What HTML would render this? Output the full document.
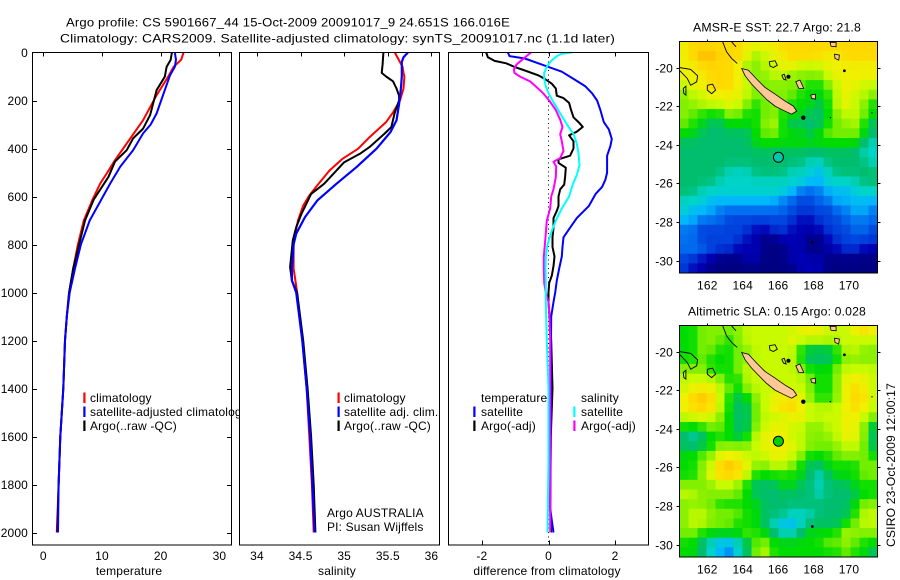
<!DOCTYPE html>
<html lang="en">
<head>
<meta charset="utf-8">
<title>Argo profile</title>
<style>
html,body{margin:0;padding:0;background:#fff;width:900px;height:580px;overflow:hidden}
svg{display:block}
text{font-family:"Liberation Sans",sans-serif;font-size:12px;fill:#000;letter-spacing:0.15px}
</style>
</head>
<body>
<svg id="chart" xmlns="http://www.w3.org/2000/svg" width="900" height="580" viewBox="0 0 900 580"></svg>
<script>
/* ---------- profile data ---------- */
const tempTicks = [0, 10, 20, 30];
const salTicks = [34, 34.5, 35, 35.5, 36];
const salTickLabels = ['34', '34.5', '35', '35.5', '36'];
const diffTicks = [-2, 0, 2];
const depthTicks = [0, 200, 400, 600, 800, 1000, 1200, 1400, 1600, 1800, 2000];

const tempClimDepths = [0,30,60,100,178,282,379,449,504,546,612,700,800,900,1000,1100,1200,1400,1600,1800,2000];
const tempClim = [23.9,23.5,22.2,21.3,19.3,17.0,14.2,12.2,10.8,9.7,8.4,6.9,5.9,5.1,4.4,4.0,3.7,3.4,2.9,2.6,2.3];
const tempAdjDepths = [0,30,60,94,171,254,300,337,407,476,546,612,700,800,900,1000,1100,1200,1400,1600,1800,2000];
const tempAdj = [22.4,22.6,22.4,21.6,20.5,19.3,18.3,17,15.3,13.1,11.4,9.9,7.9,6.4,5.4,4.5,4.0,3.7,3.4,2.9,2.6,2.5];
const tempArgoDepths = [0,30,60,101,157,261,317,358,407,455,518,612,700,800,900,1000,1100,1200,1400,1600,1800,2000];
const tempArgo = [21.9,21.7,21,20.7,19.3,18.2,17,15.3,14.2,12.2,11.1,8.6,7.1,6.1,5.1,4.4,4.0,3.7,3.4,2.9,2.6,2.4];

const salClimDepths = [0,40,60,85,100,150,200,250,290,353,401,443,492,554,596,638,700,750,800,900,950,1000,1200,1400,1600,1800,2000];
const salClim = [35.58,35.64,35.67,35.68,35.69,35.68,35.64,35.56,35.48,35.29,35.16,34.98,34.83,34.69,34.6,34.53,34.47,34.44,34.42,34.42,34.44,34.46,34.52,34.57,34.6,34.63,34.65];
const salAdjDepths = [0,20,40,100,150,214,283,332,401,478,547,617,686,755,800,900,950,1000,1200,1400,1600,1800,2000];
const salAdj = [35.73,35.68,35.66,35.66,35.65,35.63,35.6,35.53,35.37,35.14,34.91,34.69,34.55,34.45,34.42,34.4,34.4,34.45,34.52,34.57,34.61,34.635,34.66];
const salArgoDepths = [0,50,85,100,120,150,180,200,250,311,339,394,422,457,492,547,589,672,728,783,894,950,1000,1200,1400,1600,1800,2000];
const salArgo = [35.45,35.44,35.43,35.48,35.56,35.6,35.63,35.63,35.58,35.54,35.46,35.29,35.18,35.0,34.91,34.77,34.62,34.51,34.45,34.41,34.38,34.4,34.46,34.53,34.58,34.62,34.65,34.67];

const diffTempSatDepths = [0,15,25,40,60,80,110,140,170,200,240,290,320,360,390,430,500,530,560,590,640,690,730,770,810,850,900,950,1000,1040,1100,1300,1500,1900,1950,2000];
const diffTempSat = [-1.22,-1.17,-0.71,-0.41,0,0.4,0.75,1.1,1.31,1.46,1.56,1.66,1.81,1.9,1.86,1.76,1.76,1.71,1.61,1.41,1.21,0.85,0.65,0.45,0.42,0.4,0.32,0.25,0.2,0.15,0.08,0.07,0.07,0.05,0.1,0.15];
const diffTempArgoDepths = [0,20,35,45,60,75,95,110,130,150,180,190,210,240,270,290,310,330,345,370,400,430,445,460,480,520,550,570,600,640,660,690,730,770,810,850,890,930,960,1000,1040,1200,1400,1600,1900,2000];
const diffTempArgo = [-1.87,-1.82,-1.62,-1.27,-1.02,-0.71,-0.31,-0.11,0.1,0.22,0.25,0.45,0.62,0.68,0.75,0.9,1.03,0.85,0.62,0.75,0.75,0.65,0.3,0.3,0.52,0.5,0.47,0.35,0.3,0.3,0.25,0.15,0.15,0.12,0.12,0.18,0.15,0.1,0.02,0,0,0.08,0.12,0.07,0.05,0.08];
const diffSalSatDepths = [0,5,15,35,60,85,110,140,170,200,230,270,310,340,380,420,470,510,550,600,650,700,750,800,850,900,960,1040,1200,1400,1700,2000];
const diffSalSat = [0.7,0.4,0.25,0.08,-0.05,-0.13,-0.13,-0.08,0,0.12,0.25,0.42,0.6,0.75,0.85,0.9,0.93,0.85,0.73,0.62,0.4,0.22,0.08,-0.03,-0.08,-0.09,-0.08,-0.08,-0.05,0,0,-0.03];
const diffSalArgoDepths = [0,15,30,50,70,85,100,120,140,170,200,240,280,310,340,370,410,440,455,475,520,570,600,650,700,770,850,900,960,1000,1040,1100,1200,1500,1700,2000];
const diffSalArgo = [-0.53,-0.66,-0.79,-0.96,-1.04,-1.02,-0.86,-0.56,-0.39,-0.16,0.02,0.22,0.35,0.42,0.35,0.4,0.45,0.35,0.15,0.23,0.22,0.15,0.08,0.05,-0.05,-0.09,-0.14,-0.14,-0.13,-0.08,0,0.03,0.05,0.05,0.05,0.05];

/* ---------- map data: colour level per 0.5 degree cell ---------- */
const mapLonTicks = [162, 164, 166, 168, 170];
const mapLatTicks = [-20, -22, -24, -26, -28, -30];
const sstGrid = [
[10,11,11,11,11,11,11,10,10,10,10,11,11,11,11,11,11,11,11,11,11,11],
[10,11,12,12,11,11,11,10,8,9,10,10,11,11,11,11,10,10,11,11,11,11],
[10,10,11,11,11,11,10,8,8,9,9,10,10,9,9,9,10,10,10,10,10,10],
[10,10,10,11,11,11,10,9,8,8,9,9,8,8,8,8,9,10,10,10,10,10],
[9,10,10,11,11,11,10,9,8,8,8,8,8,8,7,7,8,9,10,10,9,9],
[8,9,9,10,10,10,10,9,8,8,8,8,8,7,7,7,7,9,10,9,9,8],
[8,8,9,9,9,10,9,8,7,8,8,8,7,7,7,6,7,9,10,9,8,7],
[8,8,7,7,7,8,8,7,7,8,8,7,7,7,6,6,7,8,9,9,8,7],
[8,7,7,6,6,7,7,7,7,8,9,7,6,6,6,6,7,8,8,9,7,6],
[7,7,6,6,6,6,6,6,7,8,8,7,7,7,6,7,8,8,8,8,7,6],
[6,6,6,6,6,6,6,6,7,7,7,7,7,7,7,7,7,7,7,7,6,5],
[6,6,6,6,6,6,6,6,6,6,6,6,6,6,6,6,6,6,6,6,5,5],
[6,6,6,6,6,6,6,6,6,6,6,6,6,6,5,5,6,6,6,6,6,5],
[6,6,6,6,6,5,5,5,6,6,6,6,5,5,5,4,5,6,6,6,6,6],
[6,6,6,6,5,5,5,5,5,5,5,5,5,5,4,4,5,5,5,5,6,6],
[6,6,5,5,5,5,5,5,5,5,5,5,4,3,3,3,4,4,4,5,5,5],
[5,5,5,4,4,4,4,4,4,4,4,3,3,2,2,3,3,4,4,4,4,4],
[5,4,4,4,3,3,3,3,3,3,3,3,2,2,2,2,2,3,3,4,4,3],
[4,4,3,3,3,2,2,2,2,2,2,2,2,1,1,2,2,2,3,3,3,3],
[3,3,2,2,2,2,2,2,1,1,2,2,1,1,1,1,2,2,2,3,3,2],
[3,3,2,2,2,2,2,1,1,0,0,1,1,1,0,0,1,2,2,2,2,2],
[3,3,3,2,2,2,1,1,1,0,0,0,1,1,0,0,1,1,2,2,1,1],
[2,2,1,1,0,0,0,1,1,0,0,0,1,1,1,1,0,0,0,0,0,0],
[2,1,1,0,0,0,0,0,0,0,0,0,0,1,1,1,0,0,0,0,0,0]
];
const slaGrid = [
[7,7,8,8,8,8,8,9,9,9,9,9,9,10,10,10,9,9,9,10,11,10],
[7,7,8,8,8,7,8,9,9,9,9,9,10,9,9,9,9,9,9,9,9,9],
[7,7,8,8,7,7,8,8,9,9,9,9,9,7,6,6,6,7,9,9,8,8],
[7,7,8,7,7,7,8,8,9,9,9,9,9,7,6,6,6,7,8,8,8,8],
[8,8,8,7,7,7,8,9,9,9,9,9,9,8,7,7,7,8,9,9,9,9],
[9,9,9,9,8,7,7,9,9,9,9,9,9,9,8,7,7,8,10,10,10,9],
[9,10,10,10,9,8,7,8,9,9,9,9,9,9,8,7,7,8,10,11,10,9],
[10,11,12,11,9,7,6,7,8,9,10,10,11,10,8,7,7,8,10,11,11,9],
[10,11,11,11,9,7,6,6,8,9,10,11,11,10,9,9,9,9,10,11,10,9],
[9,9,10,9,8,7,6,6,8,9,9,9,10,10,9,9,9,9,10,10,9,8],
[7,7,7,8,8,7,6,6,8,9,10,10,9,9,8,8,9,9,10,10,8,6],
[6,5,6,7,7,7,6,7,9,10,10,10,9,9,8,8,8,9,10,10,8,6],
[6,6,6,7,8,8,8,8,9,10,10,10,10,9,8,8,8,8,9,9,8,6],
[7,7,8,8,10,10,10,9,9,9,10,10,9,8,7,7,7,8,8,8,8,7],
[7,7,8,9,11,12,11,10,8,8,9,9,8,7,6,6,7,7,7,7,8,8],
[7,7,8,10,11,11,11,9,7,7,7,7,7,7,6,5,6,7,7,7,8,8],
[8,8,8,8,9,9,8,7,6,6,6,7,7,6,6,5,6,6,6,7,7,7],
[9,9,8,8,8,8,8,7,6,6,6,6,6,6,6,5,6,6,6,6,7,7],
[8,8,8,8,7,7,7,7,7,6,6,6,6,6,6,6,6,6,6,7,8,8],
[8,9,9,8,8,8,8,7,7,6,6,6,5,5,5,6,6,6,6,7,9,9],
[8,9,9,8,8,8,7,7,7,6,5,4,4,5,6,6,6,6,7,8,9,9],
[8,8,7,7,7,7,7,8,7,7,6,5,5,6,7,7,7,7,9,8,8,8],
[7,7,6,5,4,4,5,6,8,8,7,7,7,7,7,7,8,8,8,8,7,7],
[7,7,6,5,4,3,5,6,8,9,7,7,7,7,7,7,7,7,8,7,7,6]
];
const levelColors = [[0,0,130],[0,0,180],[0,64,220],[0,112,240],[0,184,250],[0,212,200],[0,190,110],[0,220,0],[130,240,0],[200,250,0],[240,240,0],[255,216,0],[255,184,0]];

const islandsFilled = [
  {lon:[163.94,164.32,164.79,165.26,165.82,166.39,166.86,167.05,166.76,166.29,165.82,165.35,164.88,164.5,164.13],
   lat:[-20.05,-20.14,-20.6,-21.03,-21.38,-21.74,-22.0,-22.26,-22.42,-22.22,-22.0,-21.66,-21.22,-20.86,-20.42]},
  {lon:[167,167.23,167.45,167.17],lat:[-20.74,-20.65,-21.09,-21.09]},
  {lon:[167.84,168.1,168.12,167.89],lat:[-21.43,-21.38,-21.64,-21.6]},
  {lon:[168.93,169.27,169.27,168.99],lat:[-18.7,-18.7,-18.93,-18.9]},
  {lon:[169.18,169.46,169.42,169.21],lat:[-19.31,-19.36,-19.62,-19.53]}
];
const islandsOutline = [
  {lon:[165.5,165.82,165.95,165.73,165.54,165.5],lat:[-19.7,-19.65,-19.88,-20,-19.93,-19.7]},
  {lon:[162,162.3,162.47,162.24,162,162],lat:[-20.92,-20.86,-21.17,-21.35,-21.17,-20.92]},
  {lon:[160.42,161.06,161.45,161.4,161.06,160.87,160.42],lat:[-20,-20.1,-20.43,-20.74,-20.92,-20.57,-20.14]},
  {lon:[160.64,160.79,160.79,160.68,160.64],lat:[-21.09,-20.97,-21.43,-21.35,-21.09]},
  {lon:[162.87,163.09,163.37,163.69],lat:[-18.67,-19.19,-19.53,-19.79]},
  {lon:[163.37,163.62],lat:[-18.67,-18.93]},
  {lon:[166.2,166.35,166.45,166.3,166.2],lat:[-20.4,-20.35,-20.65,-20.6,-20.4]}
];
const reefLons = [167.42,166.58,167.93,169.74,168.95,171.3];
const reefLats = [-22.6,-20.48,-29.07,-20.17,-22.6,-22.35];
const reefSizes = [2.2,2,1.4,1.4,0.7,0.7];
const argoLon = 166.016;
const argoLat = -24.651;

/* ---------- helpers ---------- */
const NS = 'http://www.w3.org/2000/svg';
const svg = document.getElementById('chart');
function mk(tag, attrs, parent, txt) {
  const el = document.createElementNS(NS, tag);
  for (const k in attrs) el.setAttribute(k, attrs[k]);
  if (txt !== undefined) el.textContent = txt;
  (parent || svg).appendChild(el);
  return el;
}
const yDepth = d => 52.5 + d * 0.24;
const xTemp = v => 43.3 + v * 5.87;
const xSal = v => 257 + (v - 34) * 87.2;
const xDiff = v => 548.5 + v * 33.3;

function profile(group, xFn, depths, vals, color, width, name) {
  const pts = vals.map((v, i) => xFn(v).toFixed(1) + ',' + yDepth(depths[i]).toFixed(1)).join(' ');
  const line = mk('polyline', {points: pts, fill: 'none', stroke: color, 'stroke-width': width, 'stroke-linejoin': 'round'}, group);
  
  
}
function panelFrame(x0, x1, name) {
  const g = mk('g', {}, svg);
  
  
  mk('rect', {x: x0, y: 52.5, width: x1 - x0, height: 492.5, fill: '#fff', stroke: 'none'}, g);
  return g;
}
function panelBorder(g, x0, x1) {
  const b = mk('rect', {x: x0, y: 52.5, width: x1 - x0, height: 492.5, fill: 'none', stroke: '#000', 'stroke-width': 1, 'shape-rendering': 'crispEdges'}, g);
  
  
}
function xTicks(g, ticks, labels, xFn, bottomTicks) {
  ticks.forEach((t, i) => {
    const x = Math.round(xFn(t)) + 0.5;
    mk('line', {x1: x, x2: x, y1: 52.5, y2: 56.5, stroke: '#000', 'shape-rendering': 'crispEdges'}, g);
    if (bottomTicks) mk('line', {x1: x, x2: x, y1: 540.5, y2: 545, stroke: '#000', 'shape-rendering': 'crispEdges'}, g);
    const lab = mk('text', {x: xFn(t), y: 560, 'text-anchor': 'middle'}, g, labels[i]);
    
    
  });
}
function legendItem(g, barX, textX, y, color, label) {
  if (color) mk('rect', {x: barX, y: y - 5.5, width: 2.2, height: 10.5, fill: color}, g);
  const t = mk('text', {x: textX, y: y + 4}, g, label);
  
  
}
function levelColor(v) {
  const lo = Math.max(0, Math.min(levelColors.length - 2, Math.floor(v)));
  const f = v - lo;
  const a = levelColors[lo], b = levelColors[lo + 1];
  return 'rgb(' + a.map((c, i) => Math.round(c + (b[i] - c) * f)).join(',') + ')';
}
function smoothed(grid, r, c) {
  const at = (i, j) => grid[Math.max(0, Math.min(grid.length - 1, i))][Math.max(0, Math.min(grid[0].length - 1, j))];
  return (4 * at(r, c) + at(r - 1, c) + at(r + 1, c) + at(r, c - 1) + at(r, c + 1)) / 8;
}

/* ---------- titles ---------- */
const t1 = mk('text', {x: 66, y: 26.5, textLength: 444, lengthAdjust: 'spacingAndGlyphs'}, svg, 'Argo profile: CS 5901667_44 15-Oct-2009 20091017_9 24.651S 166.016E');


const t2 = mk('text', {x: 60, y: 42.5, textLength: 555, lengthAdjust: 'spacingAndGlyphs'}, svg, 'Climatology: CARS2009. Satellite-adjusted climatology: synTS_20091017.nc (1.1d later)');



/* ---------- temperature panel ---------- */
const p1 = panelFrame(32.5, 231.5, 'temperature-panel');
profile(p1, xTemp, tempClimDepths, tempClim, '#ff0000', 2, 'temperature-climatology-line');
profile(p1, xTemp, tempArgoDepths, tempArgo, '#000000', 2, 'temperature-argo-line');
profile(p1, xTemp, tempAdjDepths, tempAdj, '#0000ff', 2, 'temperature-adjusted-line');
panelBorder(p1, 32.5, 231.5);
xTicks(p1, tempTicks, tempTicks.map(String), xTemp, false);
depthTicks.forEach(d => {
  const y = Math.round(yDepth(d)) + 0.5;
  if (d > 0) {
    mk('line', {x1: 32.5, x2: 37, y1: y, y2: y, stroke: '#000', 'shape-rendering': 'crispEdges'}, p1);
    mk('line', {x1: 227, x2: 231.5, y1: y, y2: y, stroke: '#000', 'shape-rendering': 'crispEdges'}, p1);
  }
  const lab = mk('text', {x: 28, y: y + 3.5, 'text-anchor': 'end'}, p1, String(d));
  
  
});
const xl1 = mk('text', {x: 129, y: 575, 'text-anchor': 'middle'}, p1, 'temperature');


legendItem(p1, 83.3, 90, 398, '#ff0000', 'climatology');
legendItem(p1, 83.3, 90, 412, '#0000ff', 'satellite-adjusted climatology');
legendItem(p1, 83.3, 90, 426, '#000000', 'Argo(..raw -QC)');

/* ---------- salinity panel ---------- */
const p2 = panelFrame(239.5, 439.5, 'salinity-panel');
profile(p2, xSal, salClimDepths, salClim, '#ff0000', 2, 'salinity-climatology-line');
profile(p2, xSal, salArgoDepths, salArgo, '#000000', 2, 'salinity-argo-line');
profile(p2, xSal, salAdjDepths, salAdj, '#0000ff', 2.2, 'salinity-adjusted-line');
panelBorder(p2, 239.5, 439.5);
xTicks(p2, salTicks, salTickLabels, xSal, false);
const xl2 = mk('text', {x: 337, y: 575, 'text-anchor': 'middle'}, p2, 'salinity');


legendItem(p2, 337.5, 344, 398, '#ff0000', 'climatology');
legendItem(p2, 337.5, 344, 412, '#0000ff', 'satellite adj. clim.');
legendItem(p2, 337.5, 344, 426, '#000000', 'Argo(..raw -QC)');
const a1 = mk('text', {x: 327, y: 517}, p2, 'Argo AUSTRALIA');


const a2 = mk('text', {x: 327, y: 531}, p2, 'PI: Susan Wijffels');



/* ---------- difference panel ---------- */
const p3 = panelFrame(448.5, 648.5, 'difference-panel');
const zero = mk('line', {x1: xDiff(0), x2: xDiff(0), y1: 52.5, y2: 545, stroke: '#000', 'stroke-width': 1, 'stroke-dasharray': '1 3.4', 'shape-rendering': 'crispEdges'}, p3);


profile(p3, xDiff, diffTempArgoDepths, diffTempArgo, '#000000', 2, 'difference-temperature-argo-line');
profile(p3, xDiff, diffTempSatDepths, diffTempSat, '#0000ff', 2, 'difference-temperature-satellite-line');
profile(p3, xDiff, diffSalArgoDepths, diffSalArgo, '#ff00ff', 2, 'difference-salinity-argo-line');
profile(p3, xDiff, diffSalSatDepths, diffSalSat, '#00ffff', 2, 'difference-salinity-satellite-line');
panelBorder(p3, 448.5, 648.5);
xTicks(p3, diffTicks, diffTicks.map(String), xDiff, true);
const xl3 = mk('text', {x: 547, y: 575, 'text-anchor': 'middle'}, p3, 'difference from climatology');


legendItem(p3, 0, 481, 398, null, 'temperature');
legendItem(p3, 473.3, 481, 412, '#0000ff', 'satellite');
legendItem(p3, 473.3, 481, 426, '#000000', 'Argo(-adj)');
legendItem(p3, 0, 581, 398, null, 'salinity');
legendItem(p3, 573.3, 581, 412, '#00ffff', 'satellite');
legendItem(p3, 573.3, 581, 426, '#ff00ff', 'Argo(-adj)');

/* ---------- maps ---------- */
function drawMap(name, title, titleX, titleW, top, grid, markerColor) {
  const left = 679.5, right = 877.5, height = 231.5;
  const g = mk('g', {}, svg);
  
  
  const lonX = lon => 707.3 + (lon - 162) * 17.71;
  const latY = lat => top + 26 + (-20 - lat) * 19.3;
  const rows = grid.length, cols = grid[0].length;
  const cw = (right - left) / cols, ch = height / rows;
  grid.forEach((row, r) => row.forEach((lv, c) => {
    mk('rect', {x: (left + c * cw).toFixed(2), y: (top + r * ch).toFixed(2), width: (cw + 0.4).toFixed(2), height: (ch + 0.4).toFixed(2), fill: levelColor(smoothed(grid, r, c))}, g);
  }));
  islandsFilled.forEach(s => {
    const isl = mk('polygon', {points: s.lon.map((v, i) => lonX(v).toFixed(1) + ',' + latY(s.lat[i]).toFixed(1)).join(' '), fill: '#ffc896', stroke: '#000', 'stroke-width': 0.8}, g);
    
    
  });
  islandsOutline.forEach(s => {
    const c = mk('polyline', {points: s.lon.map((v, i) => lonX(v).toFixed(1) + ',' + latY(s.lat[i]).toFixed(1)).join(' '), fill: 'none', stroke: '#000', 'stroke-width': 0.9}, g);
    
    
  });
  reefLons.forEach((lon, i) => {
    mk('circle', {cx: lonX(lon), cy: latY(reefLats[i]), r: reefSizes[i], fill: '#000'}, g);
  });
  const m = mk('circle', {cx: lonX(argoLon), cy: latY(argoLat), r: 5, fill: markerColor, stroke: '#000', 'stroke-width': 1}, g);
  
  
  const b = mk('rect', {x: left, y: top, width: right - left, height: height, fill: 'none', stroke: '#000', 'shape-rendering': 'crispEdges'}, g);
  
  
  mapLonTicks.forEach(t => {
    const x = Math.round(lonX(t)) + 0.5;
    mk('line', {x1: x, x2: x, y1: top - 2, y2: top, stroke: '#000', 'shape-rendering': 'crispEdges'}, g);
    const lab = mk('text', {x: lonX(t), y: top + 248, 'text-anchor': 'middle'}, g, String(t));
    
    
  });
  mapLatTicks.forEach(t => {
    const y = Math.round(latY(t)) + 0.5;
    mk('line', {x1: left - 3, x2: left, y1: y, y2: y, stroke: '#000', 'shape-rendering': 'crispEdges'}, g);
    mk('line', {x1: right, x2: right + 3, y1: y, y2: y, stroke: '#000', 'shape-rendering': 'crispEdges'}, g);
    const lab = mk('text', {x: 673, y: y + 4, 'text-anchor': 'end'}, g, '-' + Math.abs(t));
    
    
  });
  const tt = mk('text', {x: titleX, y: top - 10, textLength: titleW, lengthAdjust: 'spacingAndGlyphs'}, g, title);
  
  
}
drawMap('sst-map', 'AMSR-E SST: 22.7 Argo: 21.8', 693, 168, 41.5, sstGrid, '#00c8aa');
drawMap('sla-map', 'Altimetric SLA: 0.15 Argo: 0.028', 688, 178, 325.5, slaGrid, '#00d200');

const stamp = mk('text', {transform: 'translate(895,547) rotate(-90)', textLength: 164, lengthAdjust: 'spacingAndGlyphs'}, svg, 'CSIRO 23-Oct-2009 12:00:17');


</script>
</body>
</html>
